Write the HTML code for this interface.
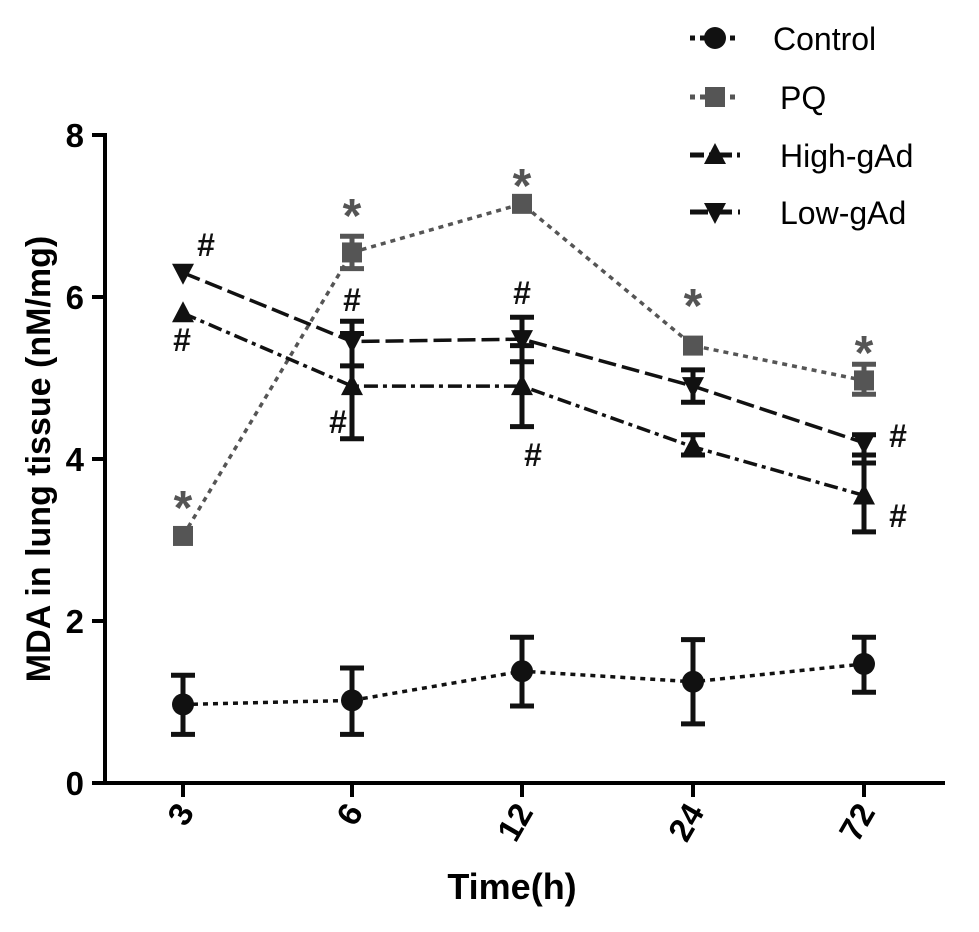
<!DOCTYPE html>
<html><head><meta charset="utf-8"><style>
body{margin:0;background:#fff;}
svg{display:block;font-family:"Liberation Sans",Arial,sans-serif;}
</style></head><body>
<svg id="chart" width="979" height="932">
<g id="axes"></g><g id="series"></g><g id="legend"></g>
</svg>
<script>
const categories=["3","6","12","24","72"];
const yTicks=[0,2,4,6,8];
const controlVals=[0.97,1.02,1.38,1.25,1.47];
const controlLo=[0.6,0.6,0.95,0.73,1.12];
const controlHi=[1.33,1.42,1.8,1.77,1.8];
const pqVals=[3.05,6.55,7.15,5.4,4.97];
const pqLo=[3.05,6.35,7.15,5.4,4.8];
const pqHi=[3.05,6.75,7.15,5.4,5.17];
const highVals=[5.8,4.9,4.9,4.15,3.55];
const highLo=[5.8,4.25,4.4,4.05,3.1];
const highHi=[5.8,5.55,5.4,4.3,4.05];
const lowVals=[6.3,5.45,5.48,4.9,4.2];
const lowLo=[6.3,5.15,5.2,4.7,3.95];
const lowHi=[6.3,5.7,5.75,5.1,4.3];
const NS="http://www.w3.org/2000/svg";
const xPos=[183,352,522,693,864];
function x(i){return xPos[i];}
function y(v){return 783-v*81;}
function mk(tag,attrs,parent,text){const e=document.createElementNS(NS,tag);for(const k in attrs)e.setAttribute(k,attrs[k]);if(text!==undefined)e.textContent=text;parent.appendChild(e);return e;}
const axes=document.getElementById('axes'),ser=document.getElementById('series'),leg=document.getElementById('legend');
let l=mk('line',{x1:105,y1:133,x2:105,y2:785,stroke:'#000','stroke-width':4},axes);


l=mk('line',{x1:103,y1:783,x2:945,y2:783,stroke:'#000','stroke-width':4},axes);


yTicks.forEach(t=>{
 mk('line',{x1:92,y1:y(t),x2:105,y2:y(t),stroke:'#000','stroke-width':4},axes);
 const tx=mk('text',{x:84,y:y(t)+12,'text-anchor':'end','font-size':33,'font-weight':'bold'},axes,String(t));
 
 
});
categories.forEach((c,i)=>{
 mk('line',{x1:x(i),y1:783,x2:x(i),y2:797,stroke:'#000','stroke-width':4},axes);
 const tx=mk('text',{x:x(i)+12,y:812,'text-anchor':'end','font-size':33,'font-weight':'bold',transform:`rotate(-60 ${x(i)+12} 812)`},axes,c);
 
 
});
let t=mk('text',{x:512,y:899,'text-anchor':'middle','font-size':36,'font-weight':'bold'},axes,'Time(h)');


t=mk('text',{x:50,y:459,'text-anchor':'middle','font-size':34,'font-weight':'bold',transform:'rotate(-90 50 459)'},axes,'MDA in lung tissue (nM/mg)');


function marker(shape,cx,cy,col,p){
 if(shape==='circle')return mk('circle',{cx,cy,r:11,fill:col},p);
 if(shape==='square')return mk('rect',{x:cx-10,y:cy-10,width:20,height:20,fill:col},p);
 if(shape==='up')return mk('polygon',{points:`${cx},${cy-12} ${cx+11},${cy+9} ${cx-11},${cy+9}`,fill:col},p);
 return mk('polygon',{points:`${cx},${cy+12} ${cx+11},${cy-9} ${cx-11},${cy-9}`,fill:col},p);
}
const series=[
 {name:'control',vals:controlVals,lo:controlLo,hi:controlHi,col:'#111',dash:'5 5',shape:'circle'},
 {name:'pq',vals:pqVals,lo:pqLo,hi:pqHi,col:'#555',dash:'5 5',shape:'square'},
 {name:'high-gad',vals:highVals,lo:highLo,hi:highHi,col:'#111',dash:'14 5 4 5',shape:'up'},
 {name:'low-gad',vals:lowVals,lo:lowLo,hi:lowHi,col:'#111',dash:'18 6',shape:'down'}];
series.forEach(s=>{
 const g=mk('g',{},ser);
 
 
 const pl=mk('polyline',{points:s.vals.map((v,i)=>x(i)+','+y(v)).join(' '),fill:'none',stroke:s.col,'stroke-width':3.5,'stroke-dasharray':s.dash},g);
 
 
 s.vals.forEach((v,i)=>{
  if(s.hi[i]-s.lo[i]>0.05){
   mk('line',{x1:x(i),y1:y(s.lo[i]),x2:x(i),y2:y(s.hi[i]),stroke:s.col,'stroke-width':5},g);
   mk('line',{x1:x(i)-12,y1:y(s.lo[i]),x2:x(i)+12,y2:y(s.lo[i]),stroke:s.col,'stroke-width':5},g);
   mk('line',{x1:x(i)-12,y1:y(s.hi[i]),x2:x(i)+12,y2:y(s.hi[i]),stroke:s.col,'stroke-width':5},g);
  }
  const m=marker(s.shape,x(i),y(v),s.col,g);
  
  
 });
});
const anns=[['*',183,524,'#555'],['*',352,232,'#555'],['*',522,202,'#555'],['*',693,322,'#555'],['*',864,369,'#555'],
['#',206,256,'#111'],['#',182,351,'#111'],['#',352,311,'#111'],['#',338,433,'#111'],['#',522,304,'#111'],['#',533,466,'#111'],['#',898,447,'#111'],['#',898,527,'#111']];
anns.forEach(a=>{
 const tx=mk('text',{x:a[1],y:a[2],'text-anchor':'middle','font-size':a[0]==='*'?48:32,'font-weight':'bold',fill:a[3]},ser,a[0]);
 
 
});
const legItems=[['Control',38,'circle','#111','5 5',773],['PQ',97,'square','#555','5 5',780],['High-gAd',155,'up','#111','14 5 4 5',780],['Low-gAd',212,'down','#111','18 6',780]];
legItems.forEach(it=>{
 const g=mk('g',{},leg);
 
 
 mk('line',{x1:690,y1:it[1],x2:740,y2:it[1],stroke:it[3],'stroke-width':5,'stroke-dasharray':it[4]},g);
 marker(it[2],715,it[1],it[3],g);
 mk('text',{x:it[5],y:it[1]+12,'font-size':32,fill:'#000'},g,it[0]);
});
</script>
</body></html>
